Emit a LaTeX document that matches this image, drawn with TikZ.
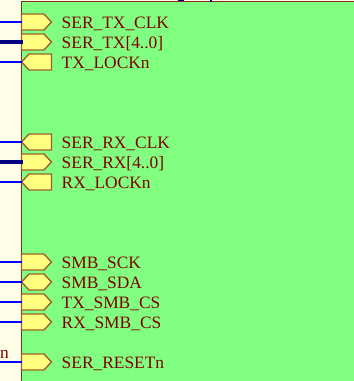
\documentclass[tikz,border=0pt]{standalone}
\usepackage{fontspec}
\setmainfont{Liberation Serif}
\definecolor{cream}{HTML}{FFFFE8}
\definecolor{sheetgreen}{HTML}{80FF80}
\definecolor{sheetedge}{HTML}{8B2A1A}
\definecolor{portfill}{HTML}{FFFF80}
\definecolor{portedge}{HTML}{A0602A}
\definecolor{portwire}{HTML}{0000FF}
\definecolor{buswire}{HTML}{000080}
\definecolor{labelred}{HTML}{800000}
\tikzset{
  x=1pt,y=-1pt,
  portshape/.style={draw=portedge,fill=portfill,line width=1.4pt,line join=miter},
  wire/.style={draw=portwire,line width=1.8pt},
  buswirestyle/.style={draw=buswire,line width=3.4pt},
  portlabel/.style={anchor=base west,inner sep=0pt,outer sep=0pt,text=labelred,font=\fontsize{17.4}{19}\selectfont},
}
\newcommand{\outport}[3]{% y, name, label
  \coordinate (#2) at (21.5,#1);
  \draw[portshape] (21.5,#1-8) -- (44,#1-8) -- (51.5,#1) -- (44,#1+8) -- (21.5,#1+8) -- cycle;
  \node[portlabel] (#2l) at (61.7,#1+6) {#3};
}
\newcommand{\inport}[3]{%
  \coordinate (#2) at (21.5,#1);
  \draw[portshape] (21.5,#1) -- (29,#1-8) -- (51.5,#1-8) -- (51.5,#1+8) -- (29,#1+8) -- cycle;
  \node[portlabel] (#2l) at (61.7,#1+6) {#3};
}
\newcommand{\bidiport}[3]{%
  \coordinate (#2) at (21.5,#1);
  \draw[portshape] (21.5,#1) -- (29,#1-8) -- (44,#1-8) -- (51.5,#1) -- (44,#1+8) -- (29,#1+8) -- cycle;
  \node[portlabel] (#2l) at (61.7,#1+6) {#3};
}
\begin{document}
\begin{tikzpicture}
\useasboundingbox (0,0) rectangle (354,381);
\fill[cream] (0,0) rectangle (354,381);
\fill[sheetgreen] (21.5,1.5) rectangle (354,381);
\draw[sheetedge,line width=1.2pt] (21.5,381) -- (21.5,1.5) -- (354,1.5);
\outport{22}{txclk}{SER\_TX\_CLK}
\outport{42}{txd}{SER\_TX[4..0]}
\inport{62}{txlock}{TX\_LOCKn}
\inport{142}{rxclk}{SER\_RX\_CLK}
\outport{162}{rxd}{SER\_RX[4..0]}
\inport{182}{rxlock}{RX\_LOCKn}
\outport{262}{sck}{SMB\_SCK}
\bidiport{282}{sda}{SMB\_SDA}
\outport{302}{txcs}{TX\_SMB\_CS}
\outport{322}{rxcs}{RX\_SMB\_CS}
\outport{362}{rst}{SER\_RESETn}
\foreach \n/\yy in {txclk/22,txlock/62,rxclk/142,rxlock/182,sck/262,sda/282,txcs/302,rxcs/322,rst/362}{
  \coordinate (w\n) at (0,\yy);
  \draw[wire] (w\n) -- (\n);
}
\foreach \n/\yy in {txd/42,rxd/162}{
  \coordinate (w\n) at (0,\yy);
  \draw[buswirestyle] (w\n) -- ([xshift=1.5pt]\n);
}
\node[portlabel] (resetfrag) at (0,358) {n};
\fill[buswire] (178,0) rectangle (184,1.2);
\fill[buswire] (209.5,0) rectangle (211.5,1.8);
\end{tikzpicture}
\end{document}
